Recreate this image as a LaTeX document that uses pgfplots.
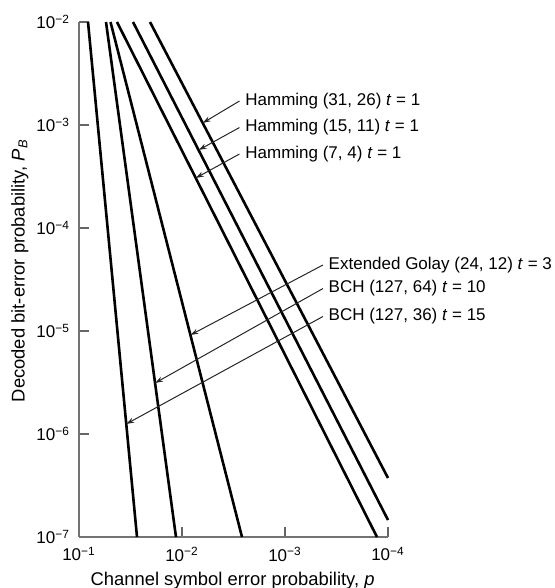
\documentclass[border=0pt]{standalone}
\usepackage{fontspec}
\setmainfont{Liberation Sans}
\usepackage{pgfplots}
\pgfplotsset{compat=1.18}
\usetikzlibrary{arrows.meta}
\begin{document}
\begin{tikzpicture}[font=\fontsize{8.5}{10}\selectfont,
  curve/.style={black, line width=1.3pt},
  lead/.style={black!85, line width=0.5pt, -{Stealth[length=4pt,width=2.6pt]}}]
\begin{axis}[
  scale only axis, width=154.5pt, height=257.5pt,
  xmode=log, ymode=log, x dir=reverse,
  xmin=1e-4, xmax=1e-1, ymin=1e-7, ymax=1e-2,
  axis x line=bottom, axis y line=left,
  axis line style={-, black!55, line width=0.9pt},
  tick align=inside, major tick length=5pt,
  xminorticks=false, yminorticks=false,
  tick style={black!60, line width=0.8pt},
  xtick={1e-1,1e-2,1e-3,1e-4},
  xticklabels={10\textsuperscript{−1},10\textsuperscript{−2},10\textsuperscript{−3},10\textsuperscript{−4}},
  ytick={1e-7,1e-6,1e-5,1e-4,1e-3,1e-2},
  yticklabels={10\textsuperscript{−7},10\textsuperscript{−6},10\textsuperscript{−5},10\textsuperscript{−4},10\textsuperscript{−3},10\textsuperscript{−2}},
  yticklabel style={xshift=-1pt},
  xticklabel style={yshift=-1.5pt},
  xlabel={Channel symbol error probability, \textit{p}},
  ylabel={Decoded bit-error probability, \textit{P}\textsubscript{\textit{B}}},
  every axis x label/.style={at={(axis description cs:0.497,-0.0951)}, anchor=base, inner sep=0pt, font=\fontsize{9.2}{11}\selectfont},
  every axis y label/.style={at={(axis description cs:-0.191,0.517)}, rotate=90, anchor=center, inner sep=0pt, font=\fontsize{9.2}{11}\selectfont},
  clip=false,
]
% BCH (127,36) t=15
\addplot[curve] coordinates {(0.08176,1e-2) (0.02734,1e-7)};
% BCH (127,64) t=10
\addplot[curve] coordinates {(0.05468,1e-2) (0.01144,1e-7)};
% Extended Golay (24,12) t=3
\addplot[curve] coordinates {(0.04944,1e-2) (0.002616,1e-7)};
% Hamming (7,4)
\addplot[curve] coordinates {(0.04277,1e-2) (1.279e-4,1e-7)};
% Hamming (15,11)
\addplot[curve] coordinates {(0.02990,1e-2) (1e-4,1.462e-7)};
% Hamming (31,26)
\addplot[curve] coordinates {(0.02045,1e-2) (1e-4,3.74e-7)};

% labels and leaders
\draw[lead] (rel axis cs:0.5194,0.8466) -- (rel axis cs:0.4003,0.8039);
\draw[lead] (rel axis cs:0.5194,0.7951) -- (rel axis cs:0.3877,0.7515);
\draw[lead] (rel axis cs:0.5194,0.7437) -- (rel axis cs:0.3780,0.6971);
\node[anchor=west, inner sep=0pt] at (rel axis cs:0.5372,0.8466) {Hamming (31, 26) \textit{t} = 1};
\node[anchor=west, inner sep=0pt] at (rel axis cs:0.5372,0.7951) {Hamming (15, 11) \textit{t} = 1};
\node[anchor=west, inner sep=0pt] at (rel axis cs:0.5372,0.7437) {Hamming (7, 4) \textit{t} = 1};

\draw[lead] (rel axis cs:0.7896,0.5282) -- (rel axis cs:0.3605,0.3922);
\draw[lead] (rel axis cs:0.7896,0.4825) -- (rel axis cs:0.2463,0.2990);
\draw[lead] (rel axis cs:0.7896,0.4282) -- (rel axis cs:0.1528,0.2194);
\node[anchor=west, inner sep=0pt] at (rel axis cs:0.8069,0.5282) {Extended Golay (24, 12) \textit{t} = 3};
\node[anchor=west, inner sep=0pt] at (rel axis cs:0.8069,0.4825) {BCH (127, 64) \textit{t} = 10};
\node[anchor=west, inner sep=0pt] at (rel axis cs:0.8069,0.4282) {BCH (127, 36) \textit{t} = 15};
\end{axis}
\pgfresetboundingbox
\path ([shift={(-39.5pt,-25.5pt)}]current axis.south west) rectangle ([shift={(83.5pt,11pt)}]current axis.north east);
\end{tikzpicture}
\end{document}
